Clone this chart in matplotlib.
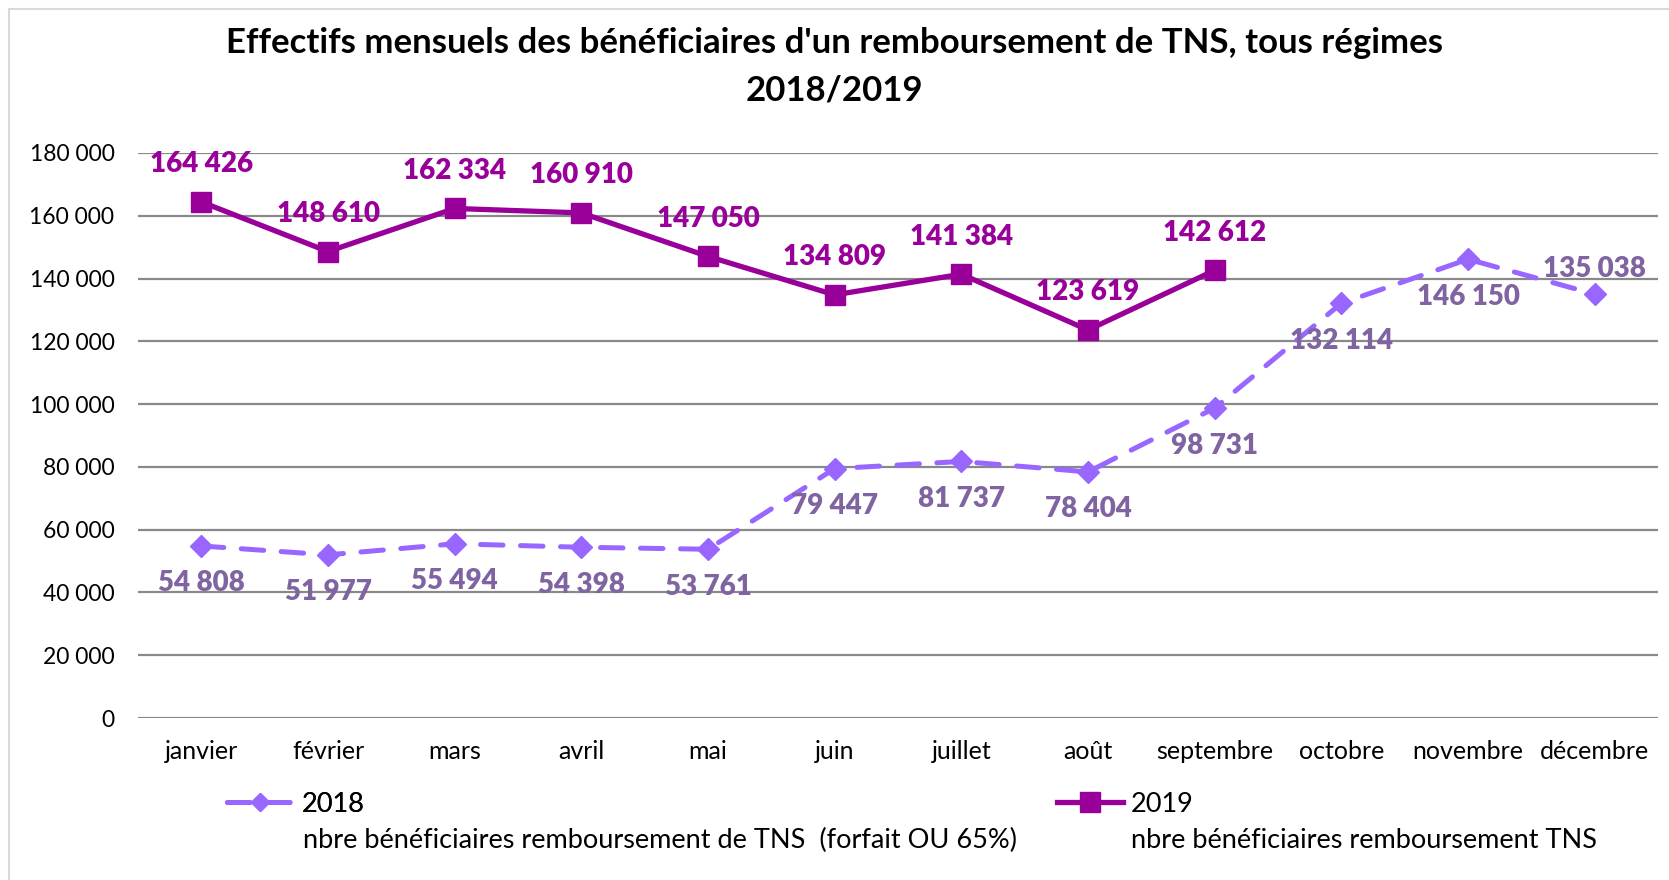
import matplotlib
matplotlib.use('Agg')
import matplotlib.pyplot as plt
from matplotlib.patches import Rectangle

# données
mois = ['janvier', 'février', 'mars', 'avril', 'mai', 'juin', 'juillet',
        'août', 'septembre', 'octobre', 'novembre', 'décembre']
val_2018 = [54808, 51977, 55494, 54398, 53761, 79447, 81737, 78404,
            98731, 132114, 146150, 135038]
val_2019 = [164426, 148610, 162334, 160910, 147050, 134809, 141384,
            123619, 142612]
yticks = [0, 20000, 40000, 60000, 80000, 100000, 120000, 140000, 160000, 180000]
titre1 = "Effectifs mensuels des bénéficiaires d'un remboursement de TNS, tous régimes"
titre2 = "2018/2019"
desc_2018 = "nbre bénéficiaires remboursement de TNS  (forfait OU 65%)"
desc_2019 = "nbre bénéficiaires remboursement TNS"

c2018 = '#9966FF'
c2018_txt = '#8064A2'
c2019 = '#990099'

plt.rcParams['font.family'] = ['Lato', 'DejaVu Sans']


def fmt(v):
    return f"{v:,}".replace(",", " ")


W, H = 1669, 880
fig = plt.figure(figsize=(W / 100, H / 100), dpi=100)
ax = fig.add_axes([138 / W, 1 - 718 / H, (1658 - 138) / W, (718 - 153) / H])

x18 = list(range(len(val_2018)))
x19 = list(range(len(val_2019)))

l18, = ax.plot(x18, val_2018, color=c2018, lw=3.6, ls=(0, (4.5, 3.5)),
               dash_capstyle='round', marker='D', markersize=11, zorder=3)
l19, = ax.plot(x19, val_2019, color=c2019, lw=3.8, marker='s',
               markersize=14, zorder=4)

# étiquettes
for i, v in enumerate(val_2019):
    ax.annotate(fmt(v), (i, v), xytext=(0, 27), textcoords='offset points',
                ha='center', va='center', fontsize=20, fontweight='heavy',
                color=c2019, zorder=5)
for i, v in enumerate(val_2018):
    dy = 18 if i == len(val_2018) - 1 else -27
    ax.annotate(fmt(v), (i, v), xytext=(0, dy), textcoords='offset points',
                ha='center', va='center', fontsize=20, fontweight='heavy',
                color=c2018_txt, zorder=5)

ax.set_xlim(-0.5, len(mois) - 0.5)
ax.set_ylim(0, 180000)
ax.set_xticks(x18)
ax.set_xticklabels(mois, fontsize=18)
ax.set_yticks(yticks)
ax.set_yticklabels([fmt(v) for v in yticks], fontsize=16.5)
ax.tick_params(length=0)
ax.tick_params(axis='y', pad=17)
ax.tick_params(axis='x', pad=16)
ax.grid(axis='y', color='#898989', lw=1.6)
ax.set_axisbelow(True)
for s in ax.spines.values():
    s.set_visible(False)

fig.text(0.5, 1 - 43 / H, titre1, fontsize=25, fontweight='bold',
         ha='center', va='center')
fig.text(0.5, 1 - 90 / H, titre2, fontsize=25, fontweight='bold',
         ha='center', va='center')

# légende
leg1 = fig.legend([l18], ['2018'], loc='center left',
                  bbox_to_anchor=(227 / W, 1 - 804 / H), frameon=False,
                  fontsize=19.5, handlelength=2.45, handletextpad=0.32,
                  borderpad=0, borderaxespad=0, markerscale=0.8)
leg2 = fig.legend([l19], ['2019'], loc='center left',
                  bbox_to_anchor=(1057 / W, 1 - 804 / H), frameon=False,
                  fontsize=19.5, handlelength=2.45, handletextpad=0.28,
                  borderpad=0, borderaxespad=0)
fig.add_artist(leg1)
fig.text(303 / W, 1 - 840 / H, desc_2018, fontsize=19.5, va='center')
fig.text(1131 / W, 1 - 840 / H, desc_2019, fontsize=19.5, va='center')

# cadre
fig.add_artist(Rectangle((9 / W, -0.1), 1.2, 1 - 9 / H + 0.1,
                         transform=fig.transFigure, fill=False,
                         ec='#d9d9d9', lw=1.5))

fig.savefig('out.png', dpi=100)
